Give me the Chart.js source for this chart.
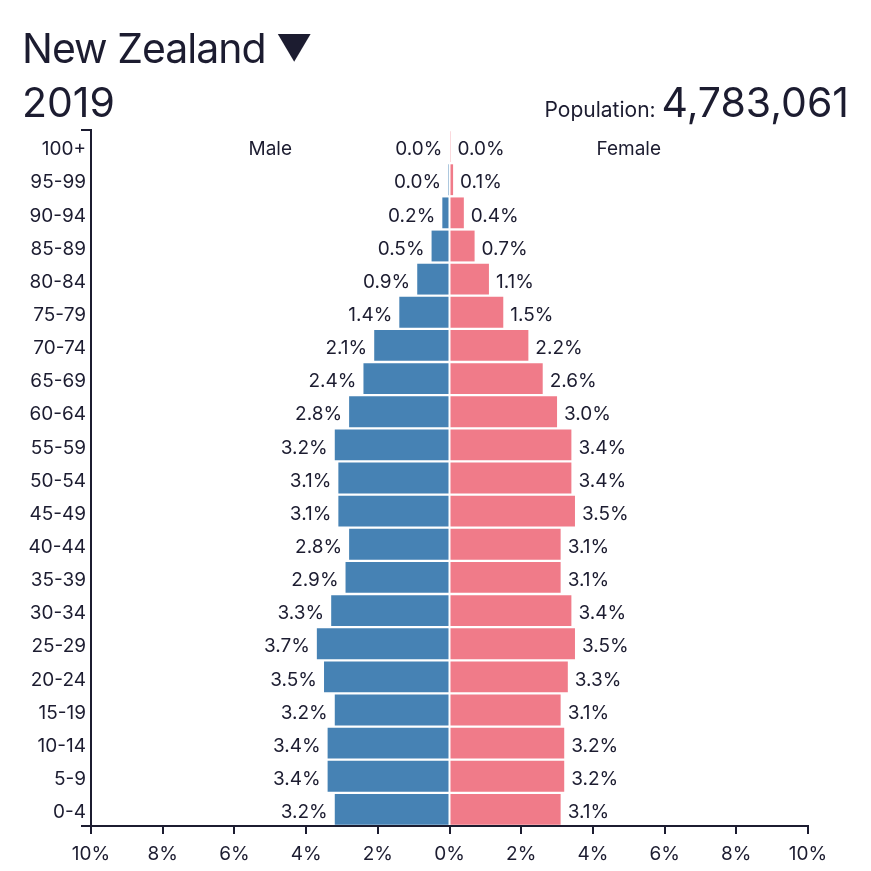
<!DOCTYPE html>
<html lang="en">
    <head>
        <meta charset="UTF-8" />
        <title>New Zealand 2019</title>
        <script src="https://cdn.jsdelivr.net/npm/chart.js@4.4.1/dist/chart.umd.min.js"></script>
        <style>
            body { margin: 0; background: #fff; }
            #wrap { position: relative; width: 871px; height: 871px; font-family: Inter, "Liberation Sans", sans-serif; color: #1c1c30; }
            .txt { position: absolute; white-space: nowrap; line-height: 1; }
        </style>
    </head>
    <body>
        <div id="wrap">
            <div class="txt" style="left:22px; top:28px; font-size:41px; letter-spacing:-1px;">New Zealand <span style="font-size:36px; position:relative; top:-3px; letter-spacing:0;">&#9660;</span></div>
            <div class="txt" style="left:22px; top:82px; font-size:41px;">2019</div>
            <div class="txt" style="right:22px; top:82px; font-size:41px;"><span style="font-size:21px;">Population: </span>4,783,061</div>
            <canvas id="chart"></canvas>
        </div>
        <script>
        const ageGroups = ['100+', '95-99', '90-94', '85-89', '80-84', '75-79', '70-74', '65-69', '60-64', '55-59',
            '50-54', '45-49', '40-44', '35-39', '30-34', '25-29', '20-24', '15-19', '10-14', '5-9', '0-4'];
        // percent of total population, top row first
        const male = [0.0, 0.04, 0.2, 0.5, 0.9, 1.4, 2.1, 2.4, 2.8, 3.2, 3.1, 3.1, 2.8, 2.9, 3.3, 3.7, 3.5, 3.2, 3.4, 3.4, 3.2];
        const female = [0.02, 0.1, 0.4, 0.7, 1.1, 1.5, 2.2, 2.6, 3.0, 3.4, 3.4, 3.5, 3.1, 3.1, 3.4, 3.5, 3.3, 3.1, 3.2, 3.2, 3.1];
        const xTicks = [-10, -8, -6, -4, -2, 0, 2, 4, 6, 8, 10];

        const ink = '#1c1c30';
        const font = { family: 'Inter, "Liberation Sans", sans-serif', size: 19 };
        const textDrop = 3;

        const labelPlugin = {
            id: 'pyramidLabels',
            afterDatasetsDraw(chart) {
                const ctx = chart.ctx;
                ctx.save();
                ctx.font = font.size + 'px ' + font.family;
                ctx.fillStyle = ink;
                ctx.textBaseline = 'middle';
                const values = [male, female];
                chart.data.datasets.forEach((ds, i) => {
                    chart.getDatasetMeta(i).data.forEach((bar, j) => {
                        const v = values[i][j].toFixed(1) + '%';
                        if (i === 0) {
                            ctx.textAlign = 'right';
                            ctx.fillText(v, Math.min(bar.x, bar.base) - 7, bar.y + textDrop);
                        } else {
                            ctx.textAlign = 'left';
                            ctx.fillText(v, Math.max(bar.x, bar.base) + 7, bar.y + textDrop);
                        }
                    });
                });
                // Male / Female headings on the top row
                const xs = chart.scales.x;
                const yTop = chart.scales.y.getPixelForValue(0) + textDrop;
                ctx.textAlign = 'center';
                ctx.fillText('Male', xs.getPixelForValue(-5), yTop);
                ctx.fillText('Female', xs.getPixelForValue(5), yTop);
                // outer ticks on the left axis
                const a = chart.chartArea;
                ctx.strokeStyle = ink;
                ctx.lineWidth = 2;
                ctx.beginPath();
                ctx.moveTo(a.left - 10, a.top);
                ctx.lineTo(a.left, a.top);
                ctx.moveTo(a.left - 10, a.bottom);
                ctx.lineTo(a.left, a.bottom);
                ctx.stroke();
                ctx.restore();
            }
        };

        const ctx = document.getElementById('chart').getContext('2d');
        const myChart = new Chart(ctx, {
            type: 'bar',
            data: {
                labels: ageGroups,
                datasets: [{
                    label: 'Male',
                    data: male.map(v => -v),
                    backgroundColor: '#4682b4',
                    barPercentage: 1,
                    categoryPercentage: 0.93
                }, {
                    label: 'Female',
                    data: female,
                    backgroundColor: '#f07b89',
                    barPercentage: 1,
                    categoryPercentage: 0.93
                }]
            },
            options: {
                indexAxis: 'y',
                responsive: true,
                maintainAspectRatio: false,
                animation: false,
                layout: { padding: { top: 130, right: 63, left: 0, bottom: 0 } },
                plugins: { legend: { display: false }, tooltip: { enabled: false } },
                scales: {
                    x: {
                        stacked: true,
                        min: -10,
                        max: 10,
                        afterBuildTicks: s => { s.ticks = xTicks.map(v => ({ value: v })); },
                        afterFit: s => { s.height = 45; },
                        ticks: { color: ink, font: font, padding: 9, callback: v => Math.abs(v) + '%', maxRotation: 0 },
                        grid: { drawOnChartArea: false, drawTicks: true, tickLength: 8, color: ink, lineWidth: 2 },
                        border: { display: true, color: ink, width: 2 }
                    },
                    y: {
                        stacked: true,
                        afterFit: s => { s.width = 91; },
                        ticks: { color: ink, font: font, padding: 5, labelOffset: textDrop },
                        grid: { drawOnChartArea: false, drawTicks: false },
                        border: { display: true, color: ink, width: 2 }
                    }
                }
            },
            plugins: [labelPlugin]
        });
        </script>
    </body>
</html>
